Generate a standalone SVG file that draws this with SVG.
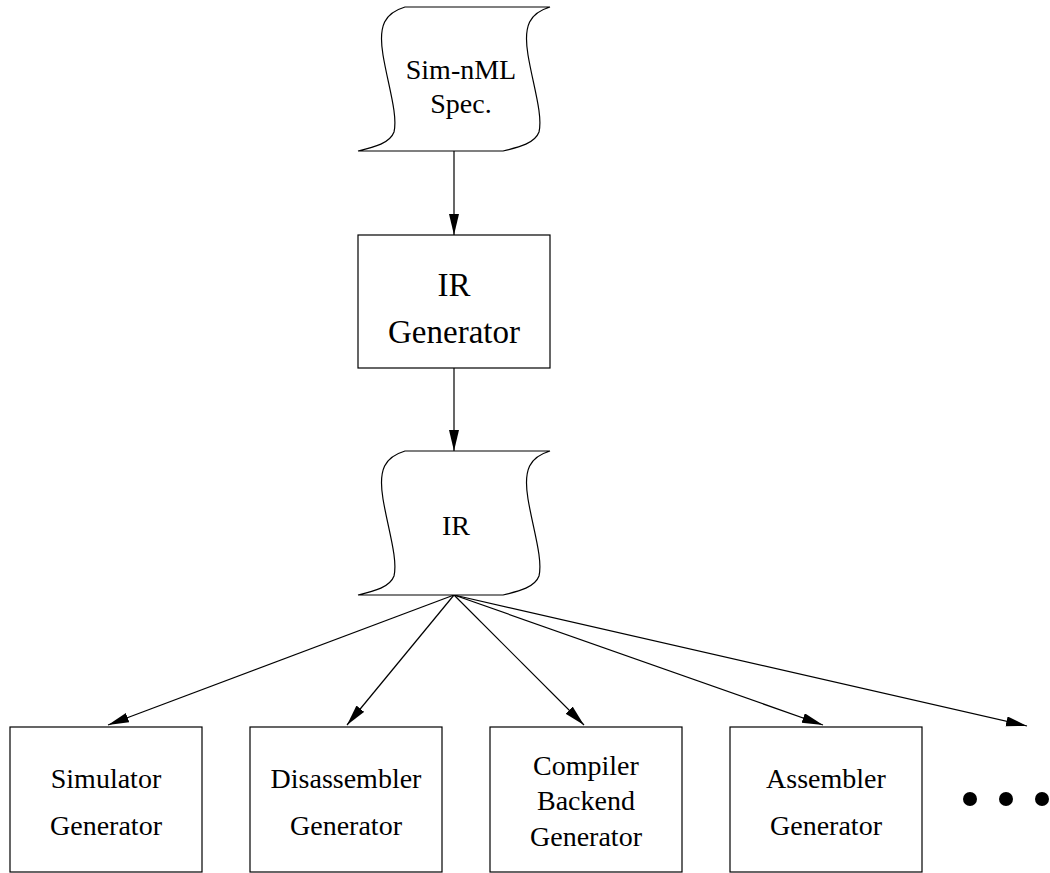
<svg xmlns="http://www.w3.org/2000/svg" width="1050" height="873" viewBox="0 0 1050 873">
<style>
.shape{fill:#fff;stroke:#000;stroke-width:1.2}
.t{font-family:"Liberation Serif","Times New Roman",serif;font-size:28px;fill:#000;text-anchor:middle}
.tb{font-family:"Liberation Serif","Times New Roman",serif;font-size:33px;fill:#000;text-anchor:middle}
.edge{fill:none;stroke:#000;stroke-width:1.2}
</style>
<defs>
<marker id="arr" markerUnits="userSpaceOnUse" markerWidth="24" markerHeight="12" refX="21" refY="5" orient="auto">
<path d="M0,0 L21,5 L0,10 z" fill="#000"/>
</marker>
</defs>
<rect width="1050" height="873" fill="#fff"/>
<g id="connectors">
<line class="edge" x1="454" y1="151" x2="454" y2="235" marker-end="url(#arr)"/>
<line class="edge" x1="454" y1="368" x2="454" y2="451" marker-end="url(#arr)"/>
<line class="edge" x1="454" y1="595" x2="108" y2="725" marker-end="url(#arr)"/>
<line class="edge" x1="454" y1="595" x2="347" y2="725" marker-end="url(#arr)"/>
<line class="edge" x1="454" y1="595" x2="584" y2="725" marker-end="url(#arr)"/>
<line class="edge" x1="454" y1="595" x2="823" y2="725" marker-end="url(#arr)"/>
<line class="edge" x1="454" y1="595" x2="1027" y2="726" marker-end="url(#arr)"/>
</g>
<g id="simnml">
<path class="shape" d="M405,7 L550,7 C530,13 523,25 528,55 C533,85 543,115 539,132 C535,143 520,147 503,151 L358,151 C375,147 390,143 394,132 C398,115 388,85 383,55 C378,25 385,13 405,7 Z"/>
<text class="t" x="461" y="79">Sim-nML</text>
<text class="t" x="461" y="113">Spec.</text>
</g>
<g id="irgen">
<rect class="shape" x="358" y="235" width="192" height="133"/>
<text class="tb" x="454" y="296">IR</text>
<text class="tb" x="454" y="343">Generator</text>
</g>
<g id="ir">
<path class="shape" d="M405,451 L550,451 C530,457 523,469 528,499 C533,529 543,559 539,576 C535,587 520,591 503,595 L358,595 C375,591 390,587 394,576 C398,559 388,529 383,499 C378,469 385,457 405,451 Z"/>
<text class="t" x="456" y="535">IR</text>
</g>
<g id="simgen">
<rect class="shape" x="10" y="727" width="192" height="145"/>
<text class="t" x="106" y="788">Simulator</text>
<text class="t" x="106" y="835">Generator</text>
</g>
<g id="disgen">
<rect class="shape" x="250" y="727" width="192" height="145"/>
<text class="t" x="346" y="788">Disassembler</text>
<text class="t" x="346" y="835">Generator</text>
</g>
<g id="compgen">
<rect class="shape" x="490" y="727" width="192" height="145"/>
<text class="t" x="586" y="775">Compiler</text>
<text class="t" x="586" y="810">Backend</text>
<text class="t" x="586" y="846">Generator</text>
</g>
<g id="asmgen">
<rect class="shape" x="730" y="727" width="192" height="145"/>
<text class="t" x="826" y="788">Assembler</text>
<text class="t" x="826" y="835">Generator</text>
</g>
<g id="more">
<circle cx="970" cy="799" r="7" fill="#000"/>
<circle cx="1006" cy="799" r="7" fill="#000"/>
<circle cx="1042" cy="799" r="7" fill="#000"/>
</g>
</svg>
